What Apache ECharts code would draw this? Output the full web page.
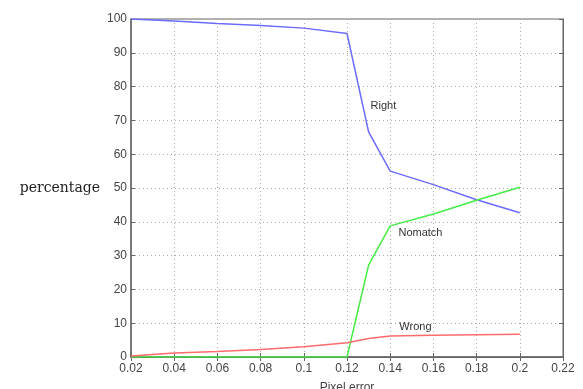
<!DOCTYPE html>
<html>
<head>
<meta charset="utf-8">
<script src="https://cdn.jsdelivr.net/npm/echarts@6/dist/echarts.min.js"></script>
<style>
  html,body{margin:0;padding:0;background:#fff;}
  #chart{width:583px;height:389px;}
</style>
</head>
<body>
<div id="chart"></div>
<script>
  // pixel error values
  var pixelErr = [0.02, 0.04, 0.06, 0.08, 0.1, 0.12, 0.13, 0.14, 0.16, 0.18, 0.2];
  var rightPct = [100, 99.4, 98.7, 98.1, 97.3, 95.7, 66.6, 55, 51, 46.5, 42.7];
  var nomatchPct = [0, 0, 0, 0, 0, 0, 27.2, 38.8, 42.3, 46.4, 50.2];
  var wrongPct = [0.3, 1.2, 1.6, 2.2, 3, 4.2, 5.5, 6.2, 6.4, 6.6, 6.7];

  function pairs(ys){
    return pixelErr.map(function(x, i){ return [x, ys[i]]; });
  }

  var myChart = echarts.init(document.getElementById('chart'));
  var tickFont = {color:'#444', fontSize:12, fontFamily:'Liberation Sans, Arial, sans-serif'};
  var dotted = {color:'#aaa', type:[1,3], width:1};
  var frame = {color:'#666', width:1.5};

  function lineSeries(name, ys, color, labelAt){
    return {
      name:name,
      type:'line',
      data:pairs(ys),
      symbol:'none',
      lineStyle:{color:color, width:1.5},
      animation:false,
      markPoint:{
        symbol:'circle', symbolSize:1,
        itemStyle:{color:'rgba(0,0,0,0)'},
        label:{show:true, position:'right', distance:0, formatter:name, color:'#333', fontSize:11,
          fontFamily:'Liberation Sans, Arial, sans-serif'},
        data:[{coord:labelAt}]
      }
    };
  }

  myChart.setOption({
    animation:false,
    grid:{left:131, right:20, top:19, bottom:32, outerBoundsMode:'none',
      show:true, borderColor:'#666', borderWidth:1},
    xAxis:[{
      type:'value', min:0.02, max:0.22, interval:0.02,
      name:'Pixel error', nameLocation:'middle', nameGap:25,
      nameTextStyle:{color:'#444', fontSize:12, fontFamily:'Liberation Sans, Arial, sans-serif'},
      axisLine:{lineStyle:frame},
      axisTick:{inside:true, length:4, lineStyle:{color:'#666'}},
      axisLabel:Object.assign({margin:6, formatter:function(v){ return String(+v.toFixed(2)); }}, tickFont),
      splitLine:{show:true, lineStyle:dotted}
    },{
      type:'value', position:'top', min:0.02, max:0.22, interval:0.02,
      axisLine:{show:true, lineStyle:{color:'#666', width:1}},
      axisTick:{inside:true, length:4, lineStyle:{color:'#666'}},
      axisLabel:{show:false}, splitLine:{show:false}
    }],
    yAxis:[{
      type:'value', min:0, max:100, interval:10,
      name:'percentage', nameLocation:'middle', nameRotate:0, nameGap:31,
      nameTextStyle:{color:'#222', fontSize:14, fontFamily:'DejaVu Serif, serif'},
      axisLine:{show:true, lineStyle:frame},
      axisTick:{inside:true, length:4, lineStyle:{color:'#666'}},
      axisLabel:Object.assign({margin:4}, tickFont),
      splitLine:{show:true, lineStyle:dotted}
    },{
      type:'value', position:'right', min:0, max:100, interval:10,
      axisLine:{show:true, lineStyle:{color:'#666', width:1}},
      axisTick:{inside:true, length:4, lineStyle:{color:'#666'}},
      axisLabel:{show:false}, splitLine:{show:false}
    }],
    series:[
      lineSeries('Right', rightPct, '#6b6bff', [0.1307, 74.3]),
      lineSeries('Nomatch', nomatchPct, '#44ee44', [0.1436, 36.8]),
      lineSeries('Wrong', wrongPct, '#ff6b6b', [0.144, 9.0])
    ]
  });
</script>
</body>
</html>
